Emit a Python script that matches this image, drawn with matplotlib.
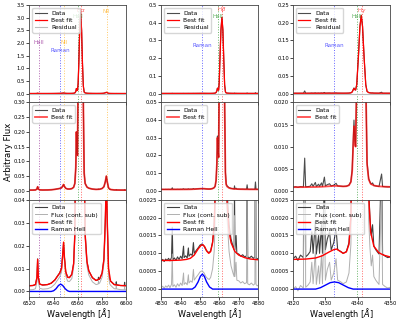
import matplotlib.pyplot as plt
import numpy as np
from matplotlib.ticker import FormatStrFormatter

# ---- H-alpha window ----
ha_wave = [6520, 6523, 6525, 6526.2, 6526.8, 6527.4, 6528.5, 6531, 6535, 6538, 6541, 6543, 6545,
           6546.5, 6547.5, 6548.2, 6548.9, 6550, 6551.5, 6553, 6555, 6556.5, 6557.5, 6558.3, 6558.8,
           6559.3, 6559.7, 6560.2, 6560.8, 6561.5, 6562.3, 6563.1, 6563.8, 6564.5, 6565.2, 6566,
           6567.5, 6569, 6572, 6575, 6578, 6580, 6581.5, 6582.6, 6583.5, 6584.3, 6585.3, 6587, 6590,
           6595, 6600]
ha_fit = [0.0025, 0.0026, 0.0030, 0.0060, 0.0140, 0.0060, 0.0032, 0.0028, 0.0030, 0.0036, 0.0050,
          0.0065, 0.0080, 0.0100, 0.0160, 0.0215, 0.0150, 0.0085, 0.0062, 0.0060, 0.0075, 0.012,
          0.025, 0.08, 0.20, 0.13, 0.12, 0.40, 1.2, 2.5, 3.2, 2.5, 1.2, 0.30, 0.06, 0.025, 0.013,
          0.009, 0.006, 0.0048, 0.0055, 0.0080, 0.014, 0.030, 0.050, 0.030, 0.010, 0.0045, 0.0030,
          0.0026, 0.0025]
ha_data_wave = [6520, 6523, 6525, 6526.2, 6526.8, 6527.4, 6528.5, 6531, 6535, 6538, 6541, 6543, 6545,
                6546.5, 6547.5, 6548.2, 6548.9, 6550, 6551.5, 6553, 6555, 6556.5, 6557.5, 6558.3,
                6558.8, 6559.3, 6559.7, 6560.2, 6560.8, 6561.5, 6562.3, 6563.1, 6563.8, 6564.5,
                6565.2, 6566, 6567.5, 6569, 6572, 6575, 6576.7, 6577, 6577.3, 6578, 6580, 6581.5,
                6582.6, 6583.5, 6584.3, 6585.3, 6585.9, 6586.2, 6587, 6590, 6591.4, 6591.7, 6592,
                6595, 6598.3, 6598.6, 6598.9, 6600]
ha_data = [0.0025, 0.0026, 0.0030, 0.0060, 0.0142, 0.0060, 0.0032, 0.0028, 0.0030, 0.0036, 0.0050,
           0.0066, 0.0081, 0.0102, 0.0162, 0.0212, 0.0150, 0.0086, 0.0063, 0.0061, 0.0074, 0.0122,
           0.025, 0.08, 0.20, 0.13, 0.12, 0.40, 1.2, 2.5, 3.2, 2.5, 1.2, 0.30, 0.06, 0.025, 0.013,
           0.009, 0.006, 0.0048, 0.0050, 0.0062, 0.0052, 0.0055, 0.0080, 0.014, 0.030, 0.050,
           0.030, 0.010, 0.0065, 0.0052, 0.0045, 0.0030, 0.0029, 0.0042, 0.0029, 0.0026, 0.0025,
           0.0040, 0.0025, 0.0025]
ha_cont = 0.0018
ha_raman_wave = [6520, 6538, 6540, 6542, 6544, 6545.8, 6547.5, 6549.5, 6551.5, 6553, 6600]
ha_raman = [0, 0, 0.0003, 0.0012, 0.0026, 0.0032, 0.0026, 0.0012, 0.0003, 0, 0]

# ---- H-beta window ----
hb_wave = [4830, 4835, 4840, 4843, 4845, 4847, 4849, 4850.5, 4851.5, 4852.5, 4853.5, 4854.5, 4855.5,
           4856.5, 4857.3, 4857.8, 4858.3, 4858.7, 4859.0, 4859.3, 4859.6, 4859.9, 4860.3, 4860.8,
           4861.3, 4861.8, 4862.3, 4862.7, 4863.1, 4863.5, 4864, 4865, 4866, 4868, 4870, 4873,
           4876, 4880]
hb_fit = [0.00080, 0.00080, 0.00081, 0.00083, 0.00086, 0.00095, 0.00112, 0.00122, 0.00124, 0.00118,
          0.00106, 0.00100, 0.00105, 0.00130, 0.0018, 0.0026, 0.006, 0.015, 0.030, 0.022, 0.019,
          0.06, 0.20, 0.36, 0.43, 0.36, 0.18, 0.05, 0.010, 0.0035, 0.0024, 0.0016, 0.0013, 0.00105,
          0.00095, 0.00088, 0.00084, 0.00082]
hb_data_wave = [4830, 4830.8, 4831.5, 4832.3, 4833.0, 4833.8, 4834.5, 4835.3, 4835.7, 4836.0, 4836.8,
                4837.6, 4838.4, 4839.2, 4840.0, 4840.8, 4841.5, 4841.8, 4842.6, 4843.4, 4844.0,
                4844.3, 4845.2, 4846.0, 4846.6, 4847.0, 4848.0, 4849.0, 4850.0, 4851.0, 4852.0,
                4853.0, 4854.0, 4854.8, 4855.5, 4856.5, 4857.3, 4857.8, 4858.3, 4858.7, 4859.0,
                4859.3, 4859.6, 4859.9, 4860.3, 4860.8, 4861.3, 4861.8, 4862.3, 4862.7, 4863.1,
                4863.5, 4864.0, 4865.0, 4866.0, 4867.0, 4867.6, 4867.8, 4868.0, 4868.6, 4869.0,
                4870.0, 4871.0, 4872.0, 4873.0, 4874.0, 4874.3, 4874.6, 4875.5, 4876.5, 4877.5,
                4878.3, 4878.6, 4878.9, 4879.5, 4880]
hb_data = [0.00079, 0.00083, 0.00077, 0.00084, 0.00080, 0.00086, 0.00079, 0.00088, 0.00173, 0.00082,
           0.00087, 0.00080, 0.00090, 0.00083, 0.00092, 0.00085, 0.00120, 0.00088, 0.00093, 0.00087,
           0.00115, 0.00092, 0.00098, 0.00094, 0.00130, 0.00100, 0.00108, 0.00115, 0.00123, 0.00126,
           0.00121, 0.00110, 0.00104, 0.00102, 0.00108, 0.00132, 0.0018, 0.0026, 0.006, 0.016, 0.031,
           0.022, 0.019, 0.06, 0.20, 0.36, 0.43, 0.36, 0.18, 0.05, 0.011, 0.0040, 0.0027, 0.0018,
           0.0014, 0.0012, 0.0011, 0.0028, 0.0011, 0.0015, 0.0010, 0.00098, 0.00092, 0.00096,
           0.00090, 0.00093, 0.0034, 0.00090, 0.00087, 0.00092, 0.00086, 0.00090, 0.0050, 0.00088,
           0.00084, 0.00086]
hb_cont = 0.00075
hb_raman_wave = [4830, 4846, 4847.5, 4849, 4850.2, 4851.2, 4852.2, 4853.4, 4854.9, 4856.5, 4880]
hb_raman = [0, 0, 0.00006, 0.0002, 0.00036, 0.00042, 0.00036, 0.0002, 0.00006, 0, 0]

# ---- H-gamma window ----
hg_wave = [4320, 4324, 4327, 4329, 4331, 4332.5, 4333.5, 4334.5, 4335.5, 4336.5, 4337.3, 4337.9,
           4338.3, 4338.6, 4338.85, 4339.1, 4339.35, 4339.7, 4340.2, 4340.7, 4341.1, 4341.5, 4342.0,
           4342.5, 4342.9, 4343.4, 4344, 4345, 4346.5, 4348, 4350]
hg_fit = [0.00083, 0.00084, 0.00087, 0.00093, 0.00103, 0.00110, 0.00112, 0.00106, 0.00100, 0.00104,
          0.00125, 0.0020, 0.0045, 0.010, 0.0146, 0.011, 0.0100, 0.025, 0.10, 0.19, 0.221, 0.19,
          0.10, 0.025, 0.006, 0.0026, 0.0016, 0.0012, 0.00102, 0.00095, 0.00090]
hg_data_wave = [4320, 4320.8, 4321.5, 4322.3, 4323.2, 4323.6, 4323.9, 4324.6, 4325.3, 4325.8, 4326.2,
                4326.9, 4327.2, 4327.9, 4328.2, 4328.8, 4329.1, 4329.7, 4330.0, 4330.6, 4331.3,
                4331.8, 4332.6, 4333.3, 4333.8, 4334.8, 4335.5, 4336.5, 4337.3, 4337.9, 4338.3,
                4338.6, 4338.85, 4339.1, 4339.35, 4339.7, 4340.2, 4340.7, 4341.1, 4341.5, 4342.0,
                4342.5, 4342.9, 4343.4, 4343.8, 4344.2, 4344.6, 4345.0, 4345.6, 4346.0, 4346.6,
                4347.4, 4347.7, 4348.5, 4349.3, 4350]
hg_data = [0.00085, 0.00092, 0.00080, 0.00095, 0.00088, 0.0074, 0.00090, 0.00096, 0.00105, 0.0016,
           0.00100, 0.0019, 0.00098, 0.0015, 0.0010, 0.0018, 0.0010, 0.0031, 0.0011, 0.0014, 0.0016,
           0.0011, 0.0013, 0.0017, 0.0011, 0.00105, 0.0010, 0.00105, 0.0013, 0.0021, 0.0048, 0.011,
           0.0160, 0.0115, 0.0100, 0.025, 0.10, 0.19, 0.221, 0.19, 0.10, 0.025, 0.0065, 0.0028,
           0.0020, 0.0015, 0.0018, 0.0012, 0.0011, 0.00105, 0.00098, 0.0038, 0.00098, 0.00092,
           0.00088, 0.00090]
hg_cont = 0.00085
hg_raman_wave = [4320, 4327, 4328.5, 4330, 4331.5, 4332.8, 4334.1, 4335.6, 4337.1, 4338.6, 4350]
hg_raman = [0, 0, 0.00004, 0.00011, 0.00018, 0.0002, 0.00018, 0.00011, 0.00004, 0, 0]

# line markers: position, name, colour, label height (fraction of top ylim)
ha_lines = [(6527.6, 'HeII', 'purple', 0.58), (6545.3, 'Raman', 'blue', 0.49),
            (6548.6, 'NII', 'orange', 0.58), (6560.3, 'HeII', 'green', 0.875),
            (6562.4, r'H$\alpha$', 'red', 0.945), (6583.7, 'NII', 'orange', 0.93)]
hb_lines = [(4851.1, 'Raman', 'blue', 0.54), (4859.4, 'HeII', 'green', 0.875),
            (4861.4, r'H$\beta$', 'red', 0.945)]
hg_lines = [(4332.7, 'Raman', 'blue', 0.54), (4339.8, 'HeII', 'green', 0.875),
            (4341.3, r'H$\gamma$', 'red', 0.94)]

columns = [
    dict(wave=ha_wave, fit=ha_fit, dw=ha_data_wave, data=ha_data, cont=ha_cont,
         rw=ha_raman_wave, raman=ha_raman, lines=ha_lines, xlim=(6520, 6600),
         xticks=[6520, 6540, 6560, 6580, 6600],
         tops=[3.5, 0.30, 0.04], steps=[0.5, 0.05, 0.01], bot3=-0.0024,
         fmts=['%.1f', '%.2f', '%.2f']),
    dict(wave=hb_wave, fit=hb_fit, dw=hb_data_wave, data=hb_data, cont=hb_cont,
         rw=hb_raman_wave, raman=hb_raman, lines=hb_lines, xlim=(4830, 4880),
         xticks=[4830, 4840, 4850, 4860, 4870, 4880],
         tops=[0.5, 0.05, 0.0025], steps=[0.1, 0.01, 0.0005], bot3=-0.00022,
         fmts=['%.1f', '%.2f', '%.4f']),
    dict(wave=hg_wave, fit=hg_fit, dw=hg_data_wave, data=hg_data, cont=hg_cont,
         rw=hg_raman_wave, raman=hg_raman, lines=hg_lines, xlim=(4320, 4350),
         xticks=[4320, 4330, 4340, 4350],
         tops=[0.25, 0.020, 0.0025], steps=[0.05, 0.005, 0.0005], bot3=-0.00022,
         fmts=['%.2f', '%.3f', '%.4f']),
]

fig, axes = plt.subplots(3, 3, figsize=(4, 3.2), dpi=100, sharex='col')
plt.subplots_adjust(left=0.0735, right=0.975, top=0.984, bottom=0.072, wspace=0.36, hspace=0)

for j, c in enumerate(columns):
    dw = np.array(c['dw'])
    data = np.array(c['data'])
    wave = np.array(c['wave'])
    fit = np.array(c['fit'])
    for i in range(3):
        ax = axes[i, j]
        top = c['tops'][i]
        for pos, name, col, frac in c['lines']:
            ax.axvline(pos, color=col, ls=':', lw=0.7, alpha=0.6)
            if i == 0:
                ax.text(pos, frac * top, name, color=col, alpha=0.65, fontsize=4.0,
                        ha='center', va='center')
        if i == 0:
            ax.plot(dw, data, color='k', lw=0.8, alpha=0.7, label='Data')
            ax.plot(wave, fit, color='red', lw=0.9, label='Best fit')
            ax.plot(c['xlim'], [0, 0], color='#bbbbbb', lw=0.8, label='Residual')
            ax.set_ylim(-0.1 * top, top)
        elif i == 1:
            ax.plot(dw, data, color='k', lw=0.8, alpha=0.7, label='Data')
            ax.plot(wave, fit, color='red', lw=1.3, alpha=0.7, label='Best fit')
            ax.set_ylim(-0.1 * top, top)
        else:
            ax.plot(dw, data, color='k', lw=0.8, alpha=0.75, label='Data')
            ax.plot(dw, data - c['cont'], color='#b0b0b0', lw=0.7, label='Flux (cont. sub)')
            ax.plot(wave, fit, color='red', lw=1.0, label='Best fit')
            ax.plot(c['rw'], c['raman'], color='blue', lw=1.0, label='Raman HeII')
            ax.set_ylim(c['bot3'], top)
            ax.set_xlabel(r'Wavelength [$\AA$]', fontsize=5.9, labelpad=0)
        ax.set_yticks(np.arange(0, top + c['steps'][i] / 2, c['steps'][i]))
        ax.yaxis.set_major_formatter(FormatStrFormatter(c['fmts'][i]))
        ax.set_xlim(c['xlim'])
        ax.set_xticks(c['xticks'])
        ax.tick_params(labelsize=3.8, length=2, width=0.5, pad=1.0)
        for s in ax.spines.values():
            s.set_linewidth(0.6)
            s.set_color('#444444')
        ax.legend(loc='upper left', fontsize=4.3, handlelength=2.0, borderpad=0.4,
                  labelspacing=0.35, framealpha=0.8)

fig.text(0.021, 0.525, 'Arbitrary Flux', rotation=90, fontsize=6.1, ha='center', va='center')

plt.savefig('out.png', dpi=100)
